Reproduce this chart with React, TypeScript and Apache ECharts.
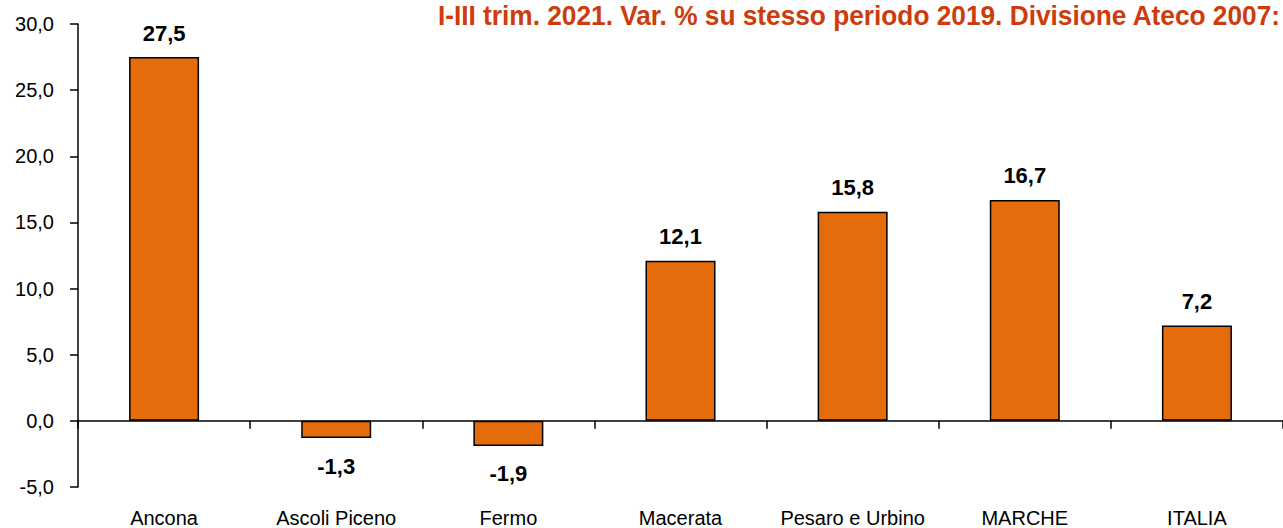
import React, { useEffect, useRef } from "react";
import * as echarts from "echarts";

const categories = ["Ancona", "Ascoli Piceno", "Fermo", "Macerata", "Pesaro e Urbino", "MARCHE", "ITALIA"];
const values = [27.5, -1.3, -1.9, 12.1, 15.8, 16.7, 7.2];
const yTicks = { min: -5, max: 30, interval: 5 };
const titleText = "I-III trim. 2021. Var. % su stesso periodo 2019. Divisione Ateco 2007:";

const fmt = (v: number) => v.toFixed(1).replace(".", ",");

export default function App() {
  const ref = useRef<HTMLDivElement>(null);
  useEffect(() => {
    if (!ref.current) return;
    const chart = echarts.init(ref.current, undefined, { renderer: "svg" });
    const sans = "'Liberation Sans', Arial, sans-serif";
    chart.setOption({
      animation: false,
      backgroundColor: "#ffffff",
      graphic: [
        {
          type: "text",
          x: 1280,
          y: 1,
          scaleX: 0.938,
          style: {
            text: titleText,
            fill: "#CD3C0C",
            font: `bold 28px ${sans}`,
            align: "right",
            verticalAlign: "top",
          },
        },
      ],
      grid: { left: 78, top: 24, bottom: 41, width: 1220 },
      xAxis: [
        {
          type: "category",
          data: categories,
          position: "bottom",
          axisLine: { onZero: true, lineStyle: { color: "#000", width: 1.5 } },
          axisTick: { show: true, length: 8, lineStyle: { color: "#000", width: 1.5 } },
          axisLabel: { show: false },
          splitLine: { show: false },
        },
        {
          type: "category",
          data: categories,
          position: "bottom",
          axisLine: { show: false, onZero: false },
          axisTick: { show: false },
          axisLabel: {
            show: true,
            interval: 0,
            margin: 21,
            color: "#000",
            fontSize: 20,
            fontFamily: sans,
          },
          splitLine: { show: false },
        },
      ],
      yAxis: {
        type: "value",
        min: yTicks.min,
        max: yTicks.max,
        interval: yTicks.interval,
        axisLine: { show: true, lineStyle: { color: "#000", width: 1.5 } },
        axisTick: { show: true, length: 8, lineStyle: { color: "#000", width: 1.5 } },
        splitLine: { show: false },
        axisLabel: {
          margin: 24,
          color: "#000",
          fontSize: 20,
          fontFamily: sans,
          formatter: (v: number) => fmt(v),
        },
      },
      series: [
        {
          type: "bar",
          xAxisIndex: 0,
          barWidth: 70,
          itemStyle: { color: "#E46C0A", borderColor: "#000", borderWidth: 1.5 },
          data: values.map((v) => ({
            value: v,
            label: {
              show: true,
              position: v < 0 ? "bottom" : "top",
              distance: v < 0 ? 17 : 13,
              formatter: () => fmt(v),
              color: "#000",
              fontWeight: "bold",
              fontSize: 22,
              fontFamily: sans,
            },
          })),
        },
      ],
    });
    return () => chart.dispose();
  }, []);
  return <div ref={ref} style={{ position: "absolute", left: 0, top: 0, width: 1283, height: 528 }} />;
}
